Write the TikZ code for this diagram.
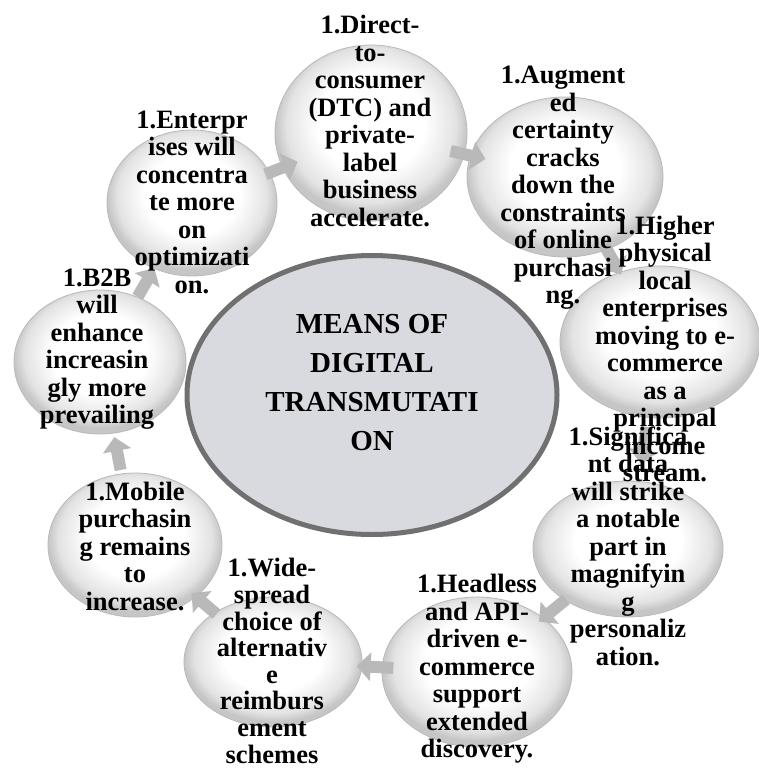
\documentclass[tikz,border=0pt]{standalone}
\usepackage{fontspec}
\setmainfont{Liberation Serif}
\usetikzlibrary{shapes.geometric,arrows.meta,calc}
\definecolor{hubfill}{RGB}{217,217,224}
\definecolor{hubline}{RGB}{112,112,112}
\pgfdeclareradialshading{orb}{\pgfpoint{0bp}{4bp}}{color(0bp)=(white); color(14bp)=(white); color(22bp)=(gray!22); color(25bp)=(gray!45); color(50bp)=(gray!45)}
\begin{document}
\begin{tikzpicture}[x=1pt,y=-1pt,
        bubble/.style={ellipse,draw=gray!55,line width=0.8pt,shading=orb,inner sep=0pt},
        blurb/.style={align=center,inner sep=0pt,font=\bfseries\fontsize{26.5}{27.5}\selectfont},
        flow/.style={line width=12pt,draw=gray!55,-{Triangle[length=14pt,width=28pt]}}]
        \useasboundingbox (0,0) rectangle (759,768);
        %% Centre
        \node[ellipse,draw=hubline,fill=hubfill,line width=5pt,inner sep=0pt,minimum width=370pt,minimum height=279pt] (hub) at (372,395) {};
        %% Circles
        \node[bubble,minimum width=170pt,minimum height=146pt] (ent) at (192,203) {};
        \node[bubble,minimum width=192pt,minimum height=176pt] (dtc) at (371,133) {};
        \node[bubble,minimum width=196pt,minimum height=160pt] (aug) at (565,177) {};
        \node[bubble,minimum width=200pt,minimum height=152pt] (hig) at (660,342) {};
        \node[bubble,minimum width=190pt,minimum height=136pt] (sig) at (628,549) {};
        \node[bubble,minimum width=190pt,minimum height=150pt] (hdl) at (477,672) {};
        \node[bubble,minimum width=178pt,minimum height=130pt] (wid) at (273,662) {};
        \node[bubble,minimum width=174pt,minimum height=144pt] (mob) at (135,545) {};
        \node[bubble,minimum width=172pt,minimum height=144pt] (b2b) at (100,362) {};
        %% Arrows
        \draw[flow] ($(ent)!0.41!(dtc)$) -- ($(ent)!0.59!(dtc)$);
        \draw[flow] ($(dtc)!0.41!(aug)$) -- ($(dtc)!0.59!(aug)$);
        \draw[flow] ($(aug)!0.41!(hig)$) -- ($(aug)!0.59!(hig)$);
        \draw[flow] ($(hig)!0.41!(sig)$) -- ($(hig)!0.59!(sig)$);
        \draw[flow] ($(sig)!0.41!(hdl)$) -- ($(sig)!0.59!(hdl)$);
        \draw[flow] ($(hdl)!0.41!(wid)$) -- ($(hdl)!0.59!(wid)$);
        \draw[flow] ($(wid)!0.41!(mob)$) -- ($(wid)!0.59!(mob)$);
        \draw[flow] ($(mob)!0.41!(b2b)$) -- ($(mob)!0.59!(b2b)$);
        \draw[flow] ($(b2b)!0.41!(ent)$) -- ($(b2b)!0.59!(ent)$);
        %% Labels
        \node[align=center,inner sep=0pt,font=\bfseries\fontsize{29}{39}\selectfont] (hub-t) at (372,383) {MEANS OF\\DIGITAL\\TRANSMUTATI\\ON};
        \node[blurb] (ent-t) at (192,202) {1.Enterpr\\ises will\\concentra\\te more\\on\\optimizati\\on.};
        \node[blurb] (dtc-t) at (370,121) {1.Direct-\\to-\\consumer\\(DTC) and\\private-\\label\\business\\accelerate.};
        \node[blurb] (aug-t) at (563,188) {1.Augment\\ed\\certainty\\cracks\\down the\\constraints\\of online\\purchasi\\ng.};
        \node[blurb] (hig-t) at (665,349) {1.Higher\\physical\\local\\enterprises\\moving to e-\\commerce\\as a\\principal\\income\\stream.};
        \node[blurb] (sig-t) at (628,546) {1.Significa\\nt data\\will strike\\a notable\\part in\\magnifyin\\g\\personaliz\\ation.};
        \node[blurb] (hdl-t) at (477,669) {1.Headless\\and API-\\driven e-\\commerce\\support\\extended\\discovery.};
        \node[blurb,font=\bfseries\fontsize{26.5}{26.6}\selectfont] (wid-t) at (272,661) {1.Wide-\\spread\\choice of\\alternativ\\e\\reimburs\\ement\\schemes};
        \node[blurb] (mob-t) at (135,546) {1.Mobile\\purchasin\\g remains\\to\\increase.};
        \node[blurb] (b2b-t) at (97,349) {1.B2B\\will\\enhance\\increasin\\gly more\\prevailing};
    \end{tikzpicture}
\end{document}
